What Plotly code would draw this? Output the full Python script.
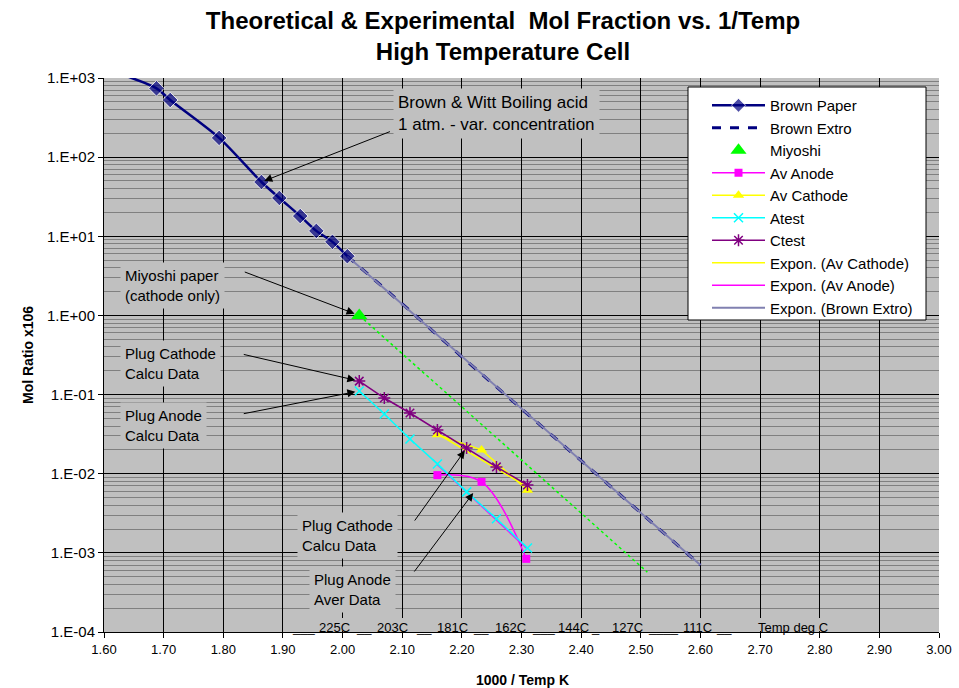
import plotly.graph_objects as go
import math

# ---------------- data ----------------
brown_paper_x = [1.624, 1.688, 1.711, 1.793, 1.864, 1.894, 1.929, 1.956, 1.983, 2.008]
brown_paper_y = [1150, 740, 527, 175, 48.5, 30.5, 18.0, 11.7, 8.5, 5.6]

brown_extro_x = [2.008, 2.1, 2.2, 2.3, 2.4, 2.5, 2.6]
brown_extro_y = [5.6, 1.4, 0.30, 0.067, 0.0146, 0.0032, 0.0007]

miyoshi_x = [2.028]
miyoshi_y = [1.0]
miyoshi_ext_x = [2.028, 2.511]
miyoshi_ext_y = [1.0, 0.00057]

av_anode_x = [2.159, 2.233, 2.308]
av_anode_y = [0.0096, 0.0079, 0.00084]

av_cathode_x = [2.159, 2.233, 2.310]
av_cathode_y = [0.031, 0.020, 0.0062]

test_x = [2.028, 2.070, 2.113, 2.159, 2.208, 2.258, 2.310]
atest_y = [0.111, 0.0568, 0.0275, 0.0133, 0.0059, 0.0027, 0.00115]
ctest_y = [0.148, 0.0905, 0.0585, 0.0357, 0.0211, 0.0122, 0.0072]

trend_cathode_x = [2.159, 2.310]
trend_cathode_y = [0.032, 0.0068]
trend_anode_x = [2.159, 2.308]
trend_anode_y = [0.013, 0.00115]
trend_brown_x = [2.008, 2.6]
trend_brown_y = [5.6, 0.0007]

y_tick_vals = [1e-4, 1e-3, 1e-2, 1e-1, 1, 10, 100, 1000]
y_tick_text = ["1.E-04", "1.E-03", "1.E-02", "1.E-01", "1.E+00", "1.E+01", "1.E+02", "1.E+03"]

temp_labels = ["225C", "203C", "181C", "162C", "144C", "127C", "111C", "Temp deg C"]
temp_label_px = [334, 392.5, 452.5, 510, 573.5, 627.5, 697.5, 792.5]
dash_labels = ["___", "__", "__", "__", "___", "_", "____", "__"]
dash_label_px = [303, 363.5, 423.5, 480.5, 543, 595, 663.5, 723.5]

FONT = "Arial, Liberation Sans, sans-serif"
NAVY = "#000080"

# ---------------- layout geometry ----------------
W, H = 959, 688
ML, MR, MT, MB = 104, 20, 78, 56
PW, PH = W - ML - MR, H - MT - MB


def pxx(px):
    return (px - ML) / PW


def pyy(py):
    return (H - MB - py) / PH


fig = go.Figure()

# Brown Extro (dashed) and its trendline
fig.add_trace(go.Scatter(x=brown_extro_x, y=brown_extro_y, mode="lines", name="Brown Extro",
                         line=dict(color=NAVY, width=3, dash="dash"), legendrank=2,
                         legendgroup="g2"))
fig.add_trace(go.Scatter(x=trend_brown_x, y=trend_brown_y, mode="lines", name="Expon. (Brown Extro)",
                         line=dict(color="#8080B0", width=2), legendrank=10, legendgroup="g10"))
# Brown Paper
fig.add_trace(go.Scatter(x=brown_paper_x, y=brown_paper_y, mode="lines+markers", name="Brown Paper",
                         line=dict(color=NAVY, width=2.5, shape="spline", smoothing=0.8),
                         marker=dict(symbol="diamond", size=[0] + [12] * (len(brown_paper_x) - 1),
                                     color=NAVY),
                         legendrank=1, legendgroup="g1"))
# Miyoshi extension (dotted green)
fig.add_trace(go.Scatter(x=miyoshi_ext_x, y=miyoshi_ext_y, mode="lines", showlegend=False,
                         line=dict(color="#00FF00", width=1.5, dash="dot")))
fig.add_trace(go.Scatter(x=miyoshi_x, y=miyoshi_y, mode="markers", name="Miyoshi",
                         marker=dict(symbol="triangle-up", size=14, color="#00FF00"),
                         legendrank=3, legendgroup="g3"))
# Av Anode + trend
fig.add_trace(go.Scatter(x=av_anode_x, y=av_anode_y, mode="lines+markers", name="Av Anode",
                         line=dict(color="#FF00FF", width=1.5, shape="spline", smoothing=1.0),
                         marker=dict(symbol="square", size=8, color="#FF00FF"),
                         legendrank=4, legendgroup="g4"))
fig.add_trace(go.Scatter(x=trend_anode_x, y=trend_anode_y, mode="lines", name="Expon. (Av Anode)",
                         line=dict(color="#FF00FF", width=1.5), legendrank=9, legendgroup="g9"))
# Av Cathode + trend
fig.add_trace(go.Scatter(x=av_cathode_x, y=av_cathode_y, mode="lines+markers", name="Av Cathode",
                         line=dict(color="#FFFF00", width=1.5),
                         marker=dict(symbol="triangle-up", size=10, color="#FFFF00"),
                         legendrank=5, legendgroup="g5"))
fig.add_trace(go.Scatter(x=trend_cathode_x, y=trend_cathode_y, mode="lines", name="Expon. (Av Cathode)",
                         line=dict(color="#FFFF00", width=1.5), legendrank=8, legendgroup="g8"))
# Atest, Ctest
fig.add_trace(go.Scatter(x=test_x, y=atest_y, mode="lines+markers", name="Atest",
                         line=dict(color="#00FFFF", width=1.5),
                         marker=dict(symbol="x-thin-open", size=9, color="#00FFFF",
                                     line=dict(width=1.5, color="#00FFFF")),
                         legendrank=6, legendgroup="g6"))
fig.add_trace(go.Scatter(x=test_x, y=ctest_y, mode="lines+markers", name="Ctest",
                         line=dict(color="#800080", width=1.5),
                         marker=dict(symbol="asterisk-open", size=10, color="#800080",
                                     line=dict(width=1.5, color="#800080")),
                         legendrank=7, legendgroup="g7"))

annotations = []
# text boxes
boxes = [
    ("Brown & Witt Boiling acid<br>1 atm. - var. concentration", 393, 88, 17),
    ("Miyoshi paper<br>(cathode only)", 120, 262, 15),
    ("Plug Cathode<br>Calcu Data", 120, 340, 15),
    ("Plug Anode<br>Calcu Data", 120, 402, 15),
    ("Plug Cathode<br>Calcu Data", 297, 512, 15),
    ("Plug Anode<br>Aver Data", 309, 566, 15),
]
for txt, lx, ty, fs in boxes:
    annotations.append(dict(text=txt, xref="paper", yref="paper", x=pxx(lx), y=pyy(ty),
                            xanchor="left", yanchor="top", align="left", showarrow=False,
                            bgcolor="#C0C0C0", borderpad=4,
                            font=dict(family=FONT, size=fs, color="black")))

# arrows (head at data point, tail offset in pixels)
arrows = [
    (brown_paper_x[4], brown_paper_y[4], 130, -51, 3),
    (miyoshi_x[0], miyoshi_y[0], -116, -44, 5),
    (test_x[0], ctest_y[0], -117, -27, 4),
    (test_x[0], atest_y[0], -117, 23, 4),
    (test_x[4], ctest_y[4], -53, 74, 3),
    (2.219, 0.0057, -60, 80, 0),
]
for hx, hy, ax, ay, so in arrows:
    annotations.append(dict(text="", x=hx, y=math.log10(hy), xref="x", yref="y",
                            ax=ax, ay=ay, axref="pixel", ayref="pixel", showarrow=True,
                            arrowhead=2, arrowsize=1.6, arrowwidth=1, arrowcolor="black",
                            standoff=so))

# temperature row
for t, p in zip(temp_labels, temp_label_px):
    annotations.append(dict(text=t, xref="paper", yref="paper", x=pxx(p), y=pyy(627),
                            xanchor="center", yanchor="middle", showarrow=False,
                            font=dict(family=FONT, size=13, color="black")))
for t, p in zip(dash_labels, dash_label_px):
    annotations.append(dict(text=t, xref="paper", yref="paper", x=pxx(p), y=pyy(627),
                            xanchor="center", yanchor="middle", showarrow=False,
                            font=dict(family=FONT, size=13, color="black")))

# axis titles
annotations.append(dict(text="<b>1000 / Temp K</b>", xref="paper", yref="paper", x=pxx(522),
                        y=pyy(680), xanchor="center", yanchor="middle", showarrow=False,
                        font=dict(family=FONT, size=14, color="black")))
annotations.append(dict(text="<b>Mol Ratio x106</b>", xref="paper", yref="paper", x=pxx(28),
                        y=pyy(355), xanchor="center", yanchor="middle", showarrow=False,
                        textangle=-90, font=dict(family=FONT, size=14, color="black")))

shapes = [
    # grey box behind the temperature row
    dict(type="rect", xref="paper", yref="paper", x0=pxx(290), x1=pxx(862),
         y0=pyy(631), y1=pyy(618), fillcolor="#C0C0C0", line=dict(width=0), layer="above"),
    # legend frame
    dict(type="rect", xref="paper", yref="paper", x0=pxx(688), x1=pxx(926),
         y0=pyy(320), y1=pyy(87), fillcolor="white", line=dict(width=1, color="black"),
         layer="above"),
]

fig.update_layout(
    width=W, height=H,
    margin=dict(l=ML, r=MR, t=MT, b=MB, autoexpand=False),
    paper_bgcolor="white", plot_bgcolor="#C0C0C0",
    font=dict(family=FONT, color="black"),
    title=dict(text="<b>Theoretical & Experimental  Mol Fraction vs. 1/Temp</b><br><b>High Temperature Cell</b>",
               x=503 / W, xref="container", xanchor="center",
               y=1 - 29 / H, yref="container", yanchor="middle",
               font=dict(family=FONT, size=24, color="black")),
    showlegend=True,
    legend=dict(x=pxx(707), y=pyy(89), xanchor="left", yanchor="top",
                bgcolor="rgba(0,0,0,0)", borderwidth=0,
                font=dict(family=FONT, size=15, color="black"),
                traceorder="grouped", tracegroupgap=0, itemwidth=53),
    annotations=annotations,
    shapes=shapes,
)

fig.update_xaxes(range=[1.6, 3.0], tick0=1.6, dtick=0.1, tickformat=".2f",
                 showgrid=True, gridcolor="#000000", gridwidth=1,
                 showline=True, linecolor="black", linewidth=1,
                 ticks="outside", ticklen=5, tickcolor="black",
                 tickfont=dict(family=FONT, size=13, color="black"), zeroline=False)
fig.update_yaxes(type="log", range=[-4, 3], tickvals=y_tick_vals, ticktext=y_tick_text,
                 showgrid=True, gridcolor="#000000", gridwidth=1,
                 minor=dict(showgrid=True, gridcolor="#808080", gridwidth=1, dtick="D1",
                            ticks=""),
                 showline=True, linecolor="black", linewidth=1,
                 ticks="outside", ticklen=5, tickcolor="black",
                 tickfont=dict(family=FONT, size=15, color="black"), zeroline=False)

fig.write_html("out.html")
